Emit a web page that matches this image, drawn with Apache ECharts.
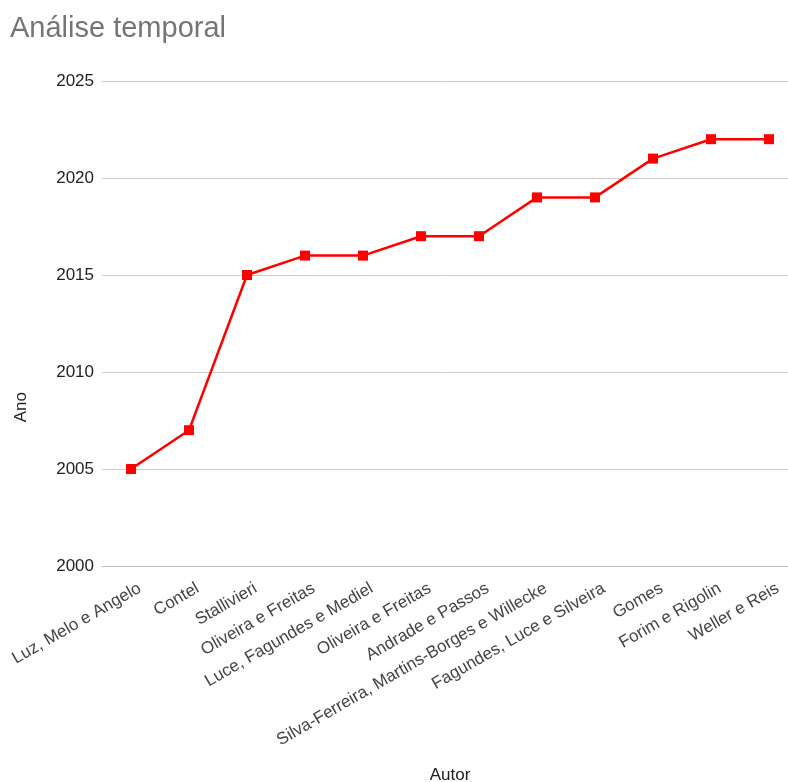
<!DOCTYPE html>
<html>
<head>
<meta charset="utf-8">
<script src="https://cdn.jsdelivr.net/npm/echarts@6/dist/echarts.min.js"></script>
<style>
  html, body { margin: 0; padding: 0; background: #fff; }
  #chart { width: 788px; height: 782px; }
</style>
</head>
<body>
<div id="chart"></div>
<script>
// dados
const autores = [
  'Luz, Melo e Angelo',
  'Contel',
  'Stallivieri',
  'Oliveira e Freitas',
  'Luce, Fagundes e Mediel',
  'Oliveira e Freitas',
  'Andrade e Passos',
  'Silva-Ferreira, Martins-Borges e Willecke',
  'Fagundes, Luce e Silveira',
  'Gomes',
  'Forim e Rigolin',
  'Weller e Reis'
]
const anos = [2005, 2007, 2015, 2016, 2016, 2017, 2017, 2019, 2019, 2021, 2022, 2022]

const fonte = 'Liberation Sans, Arial, sans-serif'
const chart = echarts.init(document.getElementById('chart'))

chart.setOption({
  animation: false,
  textStyle: { fontFamily: fonte },
  title: {
    text: 'Análise temporal',
    left: 5,
    top: 9,
    textStyle: { color: '#757575', fontSize: 29, fontWeight: 'normal' }
  },
  grid: {
    left: 102,
    top: 81,
    width: 696,
    height: 485,
    containLabel: false,
    outerBoundsMode: 'none'
  },
  xAxis: {
    type: 'category',
    data: autores,
    name: 'Autor',
    nameLocation: 'middle',
    nameGap: 201,
    nameTextStyle: { color: '#222', fontSize: 17 },
    axisLine: { lineStyle: { color: '#bdbdbd' } },
    axisTick: { show: false },
    axisLabel: {
      interval: 0,
      rotate: 30,
      margin: 6,
      verticalAlign: 'top',
      padding: [9, 0, 0, 0],
      color: '#444',
      fontSize: 17
    }
  },
  yAxis: {
    type: 'value',
    min: 2000,
    max: 2025,
    interval: 5,
    axisLine: { show: false },
    axisTick: { show: false },
    axisLabel: { color: '#222', fontSize: 17, margin: 8, formatter: v => String(v) },
    splitLine: { lineStyle: { color: '#cccccc' } }
  },
  graphic: [
    {
      type: 'text',
      left: 13,
      top: 392,
      rotation: Math.PI / 2,
      style: { text: 'Ano', fill: '#222', fontSize: 17, fontFamily: fonte }
    }
  ],
  series: [
    {
      type: 'line',
      data: anos,
      symbol: 'rect',
      symbolSize: 10,
      lineStyle: { color: '#ff0000', width: 2.5 },
      itemStyle: { color: '#ff0000' }
    }
  ]
})
</script>
</body>
</html>
